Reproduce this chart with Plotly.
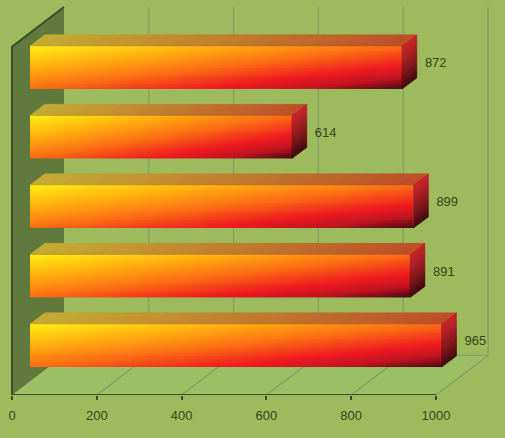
import numpy as np
import plotly.graph_objects as go

# Data, bottom bar first
bar_values = [965, 891, 899, 614, 872]
bar_positions = [0, 1, 2, 3, 4]
tick_values = [0, 200, 400, 600, 800, 1000]
tick_labels = ["0", "200", "400", "600", "800", "1000"]

BG = "#9dbb5c"
FLOOR = "#9bc064"
WALL = "#5f7a3c"
EDGE = "#34502a"
GRID = "#7f9c6c"
TEXT = "#36451c"

# Oblique 3D projection expressed in axis units
DX, DY = 122.6, 0.57          # full chart depth
Y_FLOOR = -0.712
Y_TOP = 4.30
FACE_DX = 42.5                 # bar front face offset from front of chart
BAR_DX, BAR_DY = 35.0, 0.16    # bar depth
HALF = 0.31
XS = 1.006


def lerp(c1, c2, t):
    return tuple(a + (b - a) * t for a, b in zip(c1, c2))


def rgb(c):
    return "rgb(%d,%d,%d)" % tuple(round(v) for v in c)


fig = go.Figure()
shapes = []


def bg_poly(pts, color):
    path = "M " + " L ".join(f"{x},{y}" for x, y in pts) + " Z"
    shapes.append(dict(type="path", path=path, xref="x", yref="y", layer="below",
                       fillcolor=color, line=dict(width=0)))


def bg_line(pts, color, width):
    path = "M " + " L ".join(f"{x},{y}" for x, y in pts)
    shapes.append(dict(type="path", path=path, xref="x", yref="y", layer="below",
                       line=dict(color=color, width=width)))


def poly(xs, ys, color, line=0.0):
    fig.add_trace(go.Scatter(
        x=xs, y=ys, mode="lines", fill="toself", fillcolor=color,
        line=dict(color=color, width=line),
        hoverinfo="skip", showlegend=False, cliponaxis=False))


def line(xs, ys, color, width):
    fig.add_trace(go.Scatter(
        x=xs, y=ys, mode="lines", line=dict(color=color, width=width),
        hoverinfo="skip", showlegend=False, cliponaxis=False))


# Floor
bg_poly([(0, Y_FLOOR), (1000, Y_FLOOR), (1000 + DX, Y_FLOOR + DY), (DX, Y_FLOOR + DY)], FLOOR)
# Back wall grid and floor grid
for t in tick_values[1:]:
    bg_line([(t, Y_FLOOR), (t + DX, Y_FLOOR + DY), (t + DX, Y_TOP + DY)], GRID, 1.2)
bg_line([(DX, Y_FLOOR + DY), (1000 + DX, Y_FLOOR + DY)], GRID, 1)
# Left wall
bg_poly([(0, Y_TOP), (DX, Y_TOP + DY), (DX, Y_FLOOR + DY), (0, Y_FLOOR)], WALL)
line([DX, 0, 0], [Y_TOP + DY, Y_TOP, Y_FLOOR], EDGE, 2)
# Category axis
line([0, 1000], [Y_FLOOR, Y_FLOOR], EDGE, 2)

# Gradient for bar front faces
scale = [[0.0, "#ffee12"], [0.25, "#ffb00f"], [0.5, "#fb6a14"],
         [0.72, "#f01a20"], [0.86, "#c01420"], [1.0, "#3c0810"]]
TOP_L, TOP_R = (196, 170, 50), (190, 80, 40)
SIDE_T, SIDE_B = (196, 34, 40), (70, 8, 14)

for pos, val in zip(bar_positions, bar_values):
    x0 = FACE_DX
    x1 = FACE_DX + val * XS
    y0, y1 = pos - HALF, pos + HALF
    # Top face, split into shaded strips
    n = 24
    edges = np.linspace(x0, x1, n + 1)
    for i in range(n):
        c = lerp(TOP_L, TOP_R, i / (n - 1))
        poly([edges[i], edges[i + 1], edges[i + 1] + BAR_DX, edges[i] + BAR_DX, edges[i]],
             [y1, y1, y1 + BAR_DY, y1 + BAR_DY, y1], rgb(c), 0.6)
    # End face, split into shaded strips
    m = 16
    levels = np.linspace(y1, y0, m + 1)
    for i in range(m):
        c = lerp(SIDE_T, SIDE_B, (i / (m - 1)) ** 1.3)
        poly([x1, x1 + BAR_DX, x1 + BAR_DX, x1, x1],
             [levels[i], levels[i] + BAR_DY, levels[i + 1] + BAR_DY, levels[i + 1], levels[i]],
             rgb(c), 0.6)
    # Front face: cell centres inset so the drawn image ends exactly at the bar's edges
    nx, ny = 50, 30
    gx = x0 + (np.arange(nx) + 0.5) * (x1 - x0) / nx
    gy = y0 + (np.arange(ny) + 0.5) * (y1 - y0) / ny
    u = (gx - x0) / (x1 - x0)
    v = (y1 - gy) / (y1 - y0)
    z = 0.5 * v[:, None] + 0.5 * u[None, :]
    fig.add_trace(go.Heatmap(x=gx, y=gy, z=z, zmin=0, zmax=1, colorscale=scale,
                             showscale=False, zsmooth="best", hoverinfo="skip"))

# Value labels
fig.add_trace(go.Scatter(
    x=[FACE_DX + v * XS + BAR_DX + 19 for v in bar_values],
    y=[p + 0.05 for p in bar_positions],
    mode="text", text=[str(v) for v in bar_values], textposition="middle right",
    textfont=dict(family="Liberation Sans", size=13, color=TEXT),
    hoverinfo="skip", showlegend=False, cliponaxis=False))

fig.update_layout(
    width=505, height=438, autosize=False,
    margin=dict(l=0, r=0, t=0, b=43),
    paper_bgcolor=BG, plot_bgcolor=BG, showlegend=False, shapes=shapes,
    xaxis=dict(range=[-28.3, 1162.7], tickmode="array", tickvals=tick_values, ticktext=tick_labels,
               showgrid=False, zeroline=False, showline=False, ticks="outside", ticklen=4,
               tickcolor=EDGE, tickwidth=1.5, ticklabelstandoff=4,
               tickfont=dict(family="Liberation Sans", size=13, color=TEXT)),
    yaxis=dict(range=[Y_FLOOR, 4.971], visible=False, showgrid=False, zeroline=False),
)

fig.write_html("out.html", config={"displayModeBar": False},
               post_script="document.body.style.margin='0';document.documentElement.style.background='%s';" % BG)
